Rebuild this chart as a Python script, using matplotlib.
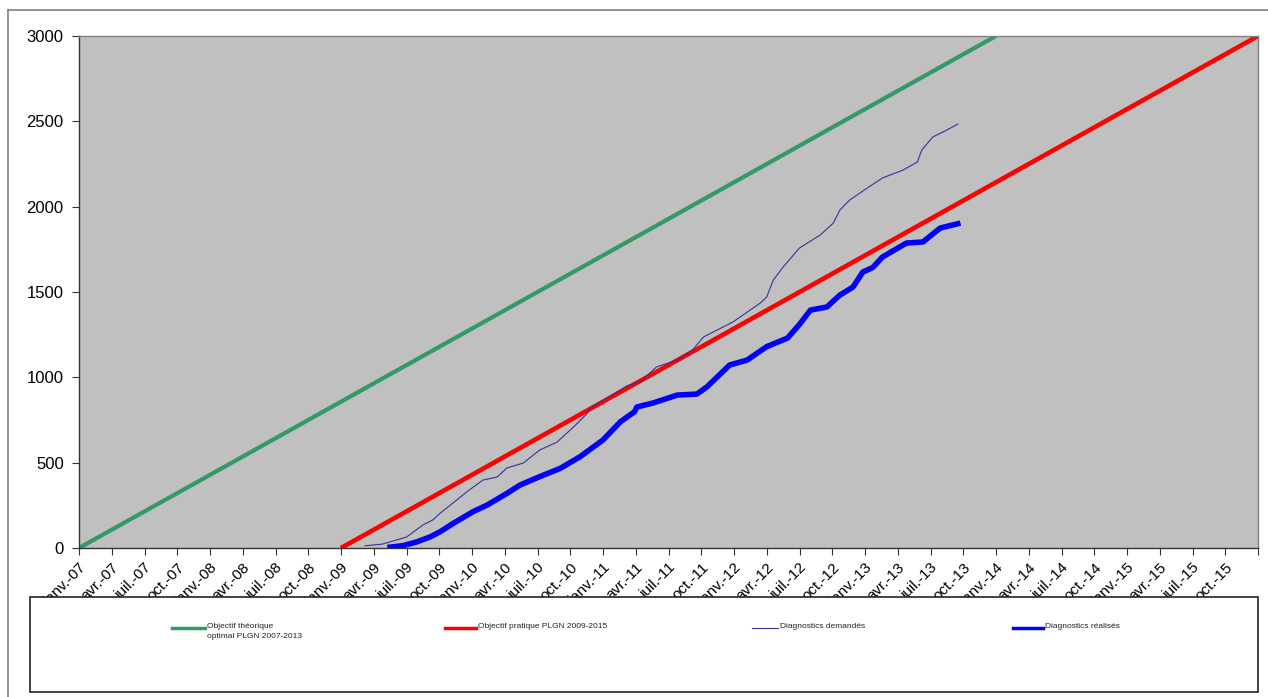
import matplotlib
matplotlib.use("Agg")
import matplotlib.pyplot as plt
from matplotlib.lines import Line2D
from matplotlib.patches import Rectangle

plt.rcParams["font.family"] = ["Liberation Sans", "DejaVu Sans"]

# x positions are months counted from janv.-07
MONTH_NAMES = ["janv.", "avr.", "juil.", "oct."]
YEARS = ["07", "08", "09", "10", "11", "12", "13", "14", "15"]
tick_labels = [f"{m}-{y}" for y in YEARS for m in MONTH_NAMES] + [""]
tick_months = [3 * i for i in range(len(tick_labels))]

# objectives (straight lines)
theo_months = [0, 84]
theo_values = [0, 3000]
prat_months = [24, 108]
prat_values = [0, 3000]

# Diagnostics demandes (thin)
dem_months = [26.2, 27.8, 29.4, 30.0, 31.5, 32.4, 33.1, 34.6, 35.5, 37.0,
              38.3, 39.2, 40.7, 42.2, 43.8, 45.3, 46.5, 46.8, 48.4, 50.2,
              51.4, 52.9, 54.8, 56.2, 57.2, 59.0, 59.9, 62.4, 63.0, 63.6,
              64.5, 66.0, 67.9, 69.1, 69.7, 70.6, 72.2, 73.6, 75.5, 76.8,
              77.2, 78.2, 79.5, 80.5]
dem_values = [13, 23, 53, 64, 135, 164, 205, 281, 328, 398,
              416, 469, 498, 574, 621, 709, 785, 820, 880, 950,
              973, 1061, 1101, 1160, 1236, 1295, 1324, 1435, 1471, 1570,
              1646, 1758, 1834, 1904, 1980, 2039, 2109, 2168, 2215, 2262,
              2332, 2408, 2449, 2484]

# Diagnostics realises (thick)
rea_months = [28.5, 29.7, 31.0, 32.2, 33.1, 34.3, 36.1, 37.4, 39.2, 40.4,
              42.2, 44.1, 45.9, 48.0, 49.6, 50.9, 51.1, 52.6, 54.8, 56.6,
              57.5, 59.6, 61.2, 63.0, 64.9, 66.0, 67.0, 68.5, 69.7, 70.9,
              71.8, 72.7, 73.6, 75.8, 77.3, 78.9, 80.5]
rea_values = [5, 14, 37, 66, 96, 145, 213, 252, 320, 369,
              418, 467, 535, 633, 740, 799, 826, 850, 896, 902,
              943, 1072, 1101, 1180, 1230, 1310, 1394, 1412, 1482, 1529,
              1617, 1643, 1705, 1787, 1793, 1875, 1900]

GREEN = "#339966"
RED = "#FF0000"
THIN_BLUE = "#333399"
BLUE = "#0000FF"

W, H = 1268, 697
fig = plt.figure(figsize=(W / 100, H / 100), dpi=100)
ax = fig.add_axes([79 / W, 1 - 548 / H, (1258 - 79) / W, (548 - 36) / H])
ax.set_facecolor("#C0C0C0")

ax.plot(theo_months, theo_values, color=GREEN, lw=3.0, solid_capstyle="butt")
ax.plot(prat_months, prat_values, color=RED, lw=3.3, solid_capstyle="butt")
ax.plot(dem_months, dem_values, color=THIN_BLUE, lw=0.8)
ax.plot(rea_months, rea_values, color=BLUE, lw=4.0, solid_joinstyle="round")

ax.set_xlim(0, 108)
ax.set_ylim(0, 3000)
ax.set_yticks(range(0, 3001, 500))
ax.set_xticks(tick_months)
ax.set_xticklabels(tick_labels, rotation=45, ha="right", va="top",
                   rotation_mode="anchor", fontsize=11)
ax.tick_params(axis="y", labelsize=12, length=5, direction="out", color="#333333", pad=6)
ax.tick_params(axis="x", length=5, direction="out", color="#333333", pad=4)
for side in ["left", "bottom", "top", "right"]:
    ax.spines[side].set_color("#808080")
    ax.spines[side].set_linewidth(1.0)
ax.spines["left"].set_color("#333333")
ax.spines["bottom"].set_color("#333333")

# outer chart border (top and left)
fig.add_artist(Line2D([8 / W, 1.0], [1 - 10 / H, 1 - 10 / H], color="#808080", lw=1.2))
fig.add_artist(Line2D([8 / W, 8 / W], [1 - 10 / H, 0.0], color="#808080", lw=1.2))

# legend box
fig.add_artist(Rectangle((30 / W, 1 - 692 / H), (1258 - 30) / W, (692 - 597) / H,
                         transform=fig.transFigure, facecolor="white",
                         edgecolor="#222222", lw=1.2))

legend_items = [
    (172, 205, GREEN, 2.5, "Objectif théorique\noptimal PLGN 2007-2013"),
    (445, 476, RED, 2.5, "Objectif pratique PLGN 2009-2015"),
    (752, 778, THIN_BLUE, 0.8, "Diagnostics demandés"),
    (1013, 1043, BLUE, 2.5, "Diagnostics réalisés"),
]
ly = 1 - 628 / H
for x0, x1, col, lw, label in legend_items:
    fig.add_artist(Line2D([x0 / W, x1 / W], [ly, ly], color=col, lw=lw))
    fig.text((x1 + 2) / W, ly + 5 / H, label, fontsize=6, va="top", ha="left",
             color="#222222", linespacing=1.5)

fig.savefig("out.png", dpi=100)
